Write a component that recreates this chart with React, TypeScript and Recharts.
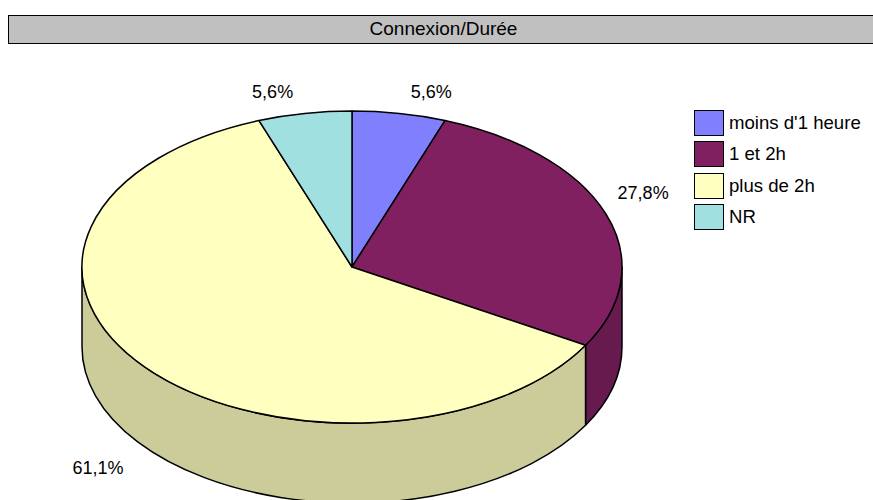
import React from "react";
import { PieChart, Pie, Cell, Legend } from "recharts";

const categories = ["moins d'1 heure", "1 et 2h", "plus de 2h", "NR"];
const values = [5.6, 27.8, 61.1, 5.6];
const title = "Connexion/Durée";

const COLORS = ["#8080ff", "#802060", "#ffffc0", "#a0e0e0"];
const FONT = "'Liberation Sans', Arial, sans-serif";
const FONT_SIZE = 18;
const RATIO = 156 / 270;
const DEPTH = 80;

const data = categories.map((name, i) => ({ name, value: values[i] }));

function darken(hex: string, f: number) {
  const n = parseInt(hex.slice(1), 16);
  const r = Math.round(((n >> 16) & 255) * f);
  const g = Math.round(((n >> 8) & 255) * f);
  const b = Math.round((n & 255) * f);
  return `rgb(${r},${g},${b})`;
}

function pt(cx: number, cy: number, rx: number, ry: number, deg: number) {
  const t = (deg * Math.PI) / 180;
  return [cx + rx * Math.cos(t), cy + ry * Math.sin(t)];
}

function Slice3D(props: any) {
  const { cx, cy, outerRadius, startAngle, endAngle, fill } = props;
  const rx = outerRadius;
  const ry = outerRadius * RATIO;
  let t1 = -startAngle;
  let t2 = -endAngle;
  if (t1 > t2) {
    const tmp = t1;
    t1 = t2;
    t2 = tmp;
  }
  const [x1, y1] = pt(cx, cy, rx, ry, t1);
  const [x2, y2] = pt(cx, cy, rx, ry, t2);
  const large = t2 - t1 > 180 ? 1 : 0;
  const top = `M${cx},${cy} L${x1},${y1} A${rx},${ry} 0 ${large} 1 ${x2},${y2} Z`;
  const sides: string[] = [];
  for (const [lo, hi] of [
    [0, 180],
    [360, 540],
    [-360, -180],
  ]) {
    const a = Math.max(lo, t1);
    const b = Math.min(hi, t2);
    if (b > a) {
      const [ax, ay] = pt(cx, cy, rx, ry, a);
      const [bx, by] = pt(cx, cy, rx, ry, b);
      sides.push(
        `M${ax},${ay} A${rx},${ry} 0 0 1 ${bx},${by} L${bx},${by + DEPTH} A${rx},${ry} 0 0 0 ${ax},${ay + DEPTH} Z`
      );
    }
  }
  return (
    <g>
      {sides.map((d, i) => (
        <path key={i} d={d} fill={darken(fill, 0.8)} stroke="#000" strokeWidth={1.5} strokeLinejoin="round" />
      ))}
      <path d={top} fill={fill} stroke="#000" strokeWidth={1.5} strokeLinejoin="round" />
    </g>
  );
}

function renderLabel(props: any) {
  const { cx, cy, outerRadius, midAngle, value } = props;
  const rx = outerRadius;
  const ry = outerRadius * RATIO;
  const t = -midAngle;
  const [px, py0] = pt(cx, cy, rx, ry, t);
  const s = Math.sin((t * Math.PI) / 180);
  const c = Math.cos((t * Math.PI) / 180);
  const front = s > 0;
  const py = front ? py0 + DEPTH : py0;
  const text = value.toFixed(1).replace(".", ",") + "%";
  const halfW = text.length * FONT_SIZE * 0.28;
  const x = px + (c >= 0 ? 1 : -1) * (halfW + (front ? 22 : 12));
  const y = py + (s >= 0 ? 1 : -1) * 21;
  return (
    <text
      x={x}
      y={y}
      textAnchor="middle"
      dominantBaseline="central"
      fontFamily={FONT}
      fontSize={FONT_SIZE}
      fill="#000"
    >
      {text}
    </text>
  );
}

function renderLegend() {
  return (
    <div style={{ fontFamily: FONT, fontSize: 18.6, color: "#000" }}>
      {categories.map((name, i) => (
        <div key={name} style={{ display: "flex", alignItems: "center", height: 31.5 }}>
          <div
            style={{
              width: 28,
              height: 24,
              background: COLORS[i],
              border: "1.5px solid #000",
              marginRight: 5,
            }}
          />
          <span style={{ whiteSpace: "nowrap" }}>{name}</span>
        </div>
      ))}
    </div>
  );
}

export default function App() {
  return (
    <div
      style={{
        position: "absolute",
        left: 0,
        top: 0,
        width: 873,
        height: 500,
        overflow: "hidden",
        background: "#fff",
      }}
    >
      <div
        style={{
          position: "absolute",
          left: 8,
          top: 15,
          width: 875,
          height: 29,
          boxSizing: "border-box",
          background: "#c0c0c0",
          border: "1.5px solid #000",
          fontFamily: FONT,
          fontSize: 19,
          lineHeight: "26px",
          textAlign: "center",
          color: "#000",
          zIndex: 2,
        }}
      >
        <span style={{ position: "absolute", left: 0, width: 869, textAlign: "center" }}>{title}</span>
      </div>
      <PieChart width={873} height={500} margin={{ top: 0, right: 0, bottom: 0, left: 0 }}>
        <Pie
          data={data}
          dataKey="value"
          nameKey="name"
          cx={352}
          cy={267}
          outerRadius={270}
          startAngle={90}
          endAngle={-270}
          isAnimationActive={false}
          labelLine={false}
          label={renderLabel}
          shape={Slice3D}
          inactiveShape={Slice3D}
          activeShape={Slice3D}
          stroke="#000"
        >
          {data.map((d, i) => (
            <Cell key={d.name} fill={COLORS[i]} />
          ))}
        </Pie>
        <Legend
          layout="vertical"
          align="right"
          verticalAlign="top"
          content={renderLegend}
          wrapperStyle={{ position: "absolute", left: 694, top: 107, width: 180 }}
        />
      </PieChart>
    </div>
  );
}
